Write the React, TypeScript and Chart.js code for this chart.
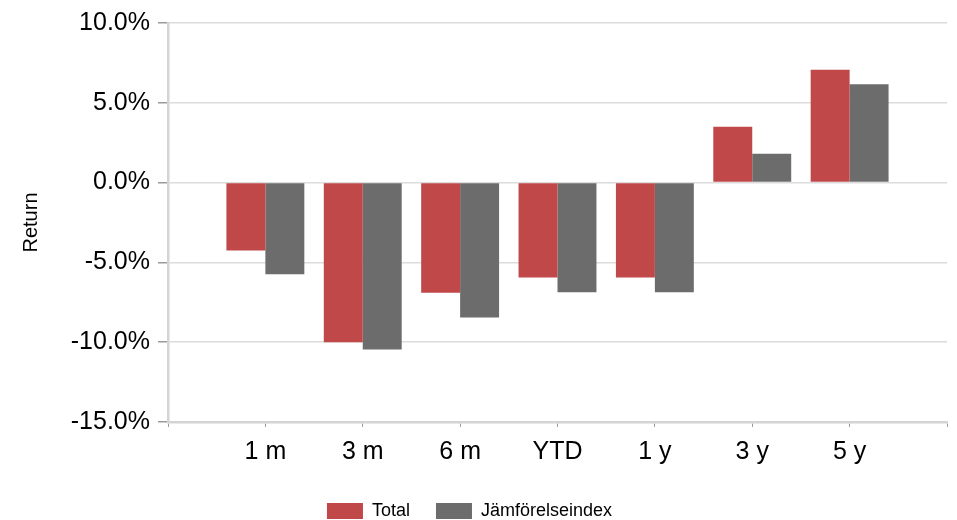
import React, { useEffect, useRef } from "react";
import { Chart, registerables } from "chart.js";

Chart.register(...registerables);

const categories = ["1 m", "3 m", "6 m", "YTD", "1 y", "3 y", "5 y"];
const totalValues = [-4.25, -10.0, -6.9, -5.95, -5.95, 3.5, 7.07];
const benchValues = [-5.75, -10.45, -8.45, -6.87, -6.87, 1.8, 6.16];
const seriesNames = ["Total", "Jämförelseindex"];
const yMin = -15;
const yMax = 10;
const yStep = 5;

const FONT = "'Liberation Sans', Arial, sans-serif";

const legendShift = {
  id: "legendShift",
  afterLayout(chart: any) {
    if (chart.legend) {
      chart.legend.left -= 4;
      chart.legend.right -= 4;
    }
  },
};

export default function App() {
  const ref = useRef<HTMLCanvasElement | null>(null);

  useEffect(() => {
    if (!ref.current) return;
    const labels = ["", ...categories, ""];
    const pad = (arr: number[]) => [null, ...arr, null];
    const chart = new Chart(ref.current, {
      type: "bar",
      data: {
        labels,
        datasets: [
          {
            label: seriesNames[0],
            data: pad(totalValues) as any,
            backgroundColor: "#C04848",
            borderWidth: 0,
          },
          {
            label: seriesNames[1],
            data: pad(benchValues) as any,
            backgroundColor: "#6C6C6C",
            borderWidth: 0,
          },
        ],
      },
      plugins: [legendShift],
      options: {
        responsive: false,
        animation: false,
        layout: { padding: { left: 0, right: 10, top: 21, bottom: -10 } },
        datasets: { bar: { barPercentage: 1, categoryPercentage: 0.8 } } as any,
        plugins: {
          tooltip: { enabled: false },
          legend: {
            position: "bottom",
            align: "center",
            labels: {
              boxWidth: 36,
              boxHeight: 16,
              padding: 26,
              color: "#000",
              font: { family: FONT, size: 18 },
            },
          },
        },
        scales: {
          x: {
            offset: false,
            grid: {
              offset: false,
              drawOnChartArea: false,
              drawTicks: true,
              tickLength: 5,
              tickColor: "#9a9a9a",
              color: "#d4d4d4",
            },
            border: { display: true, color: "#d4d4d4", width: 2.5 },
            ticks: {
              autoSkip: false,
              maxRotation: 0,
              padding: 10,
              color: "#000",
              font: { family: FONT, size: 25 },
            },
            afterFit: (scale: any) => {
              scale.height = 54;
            },
          },
          y: {
            min: yMin,
            max: yMax,
            grid: {
              color: "#dcdcdc",
              lineWidth: 1.5,
              tickLength: 10,
              tickColor: "#9a9a9a",
            },
            border: { display: true, color: "#d4d4d4", width: 2.5 },
            ticks: {
              stepSize: yStep,
              padding: 8,
              color: "#000",
              font: { family: FONT, size: 25 },
              callback: (v: any) => Number(v).toFixed(1) + "%",
            },
            title: {
              display: true,
              text: "Return",
              color: "#000",
              font: { family: FONT, size: 20 },
              padding: { top: 19, bottom: 0 },
            },
            afterFit: (scale: any) => {
              scale.width = 168;
            },
          },
        },
      },
    });
    return () => chart.destroy();
  }, []);

  return (
    <div style={{ position: "absolute", left: 0, top: 0, width: 957, height: 520, background: "#fff" }}>
      <canvas ref={ref} width={957} height={520} style={{ display: "block" }} />
    </div>
  );
}
